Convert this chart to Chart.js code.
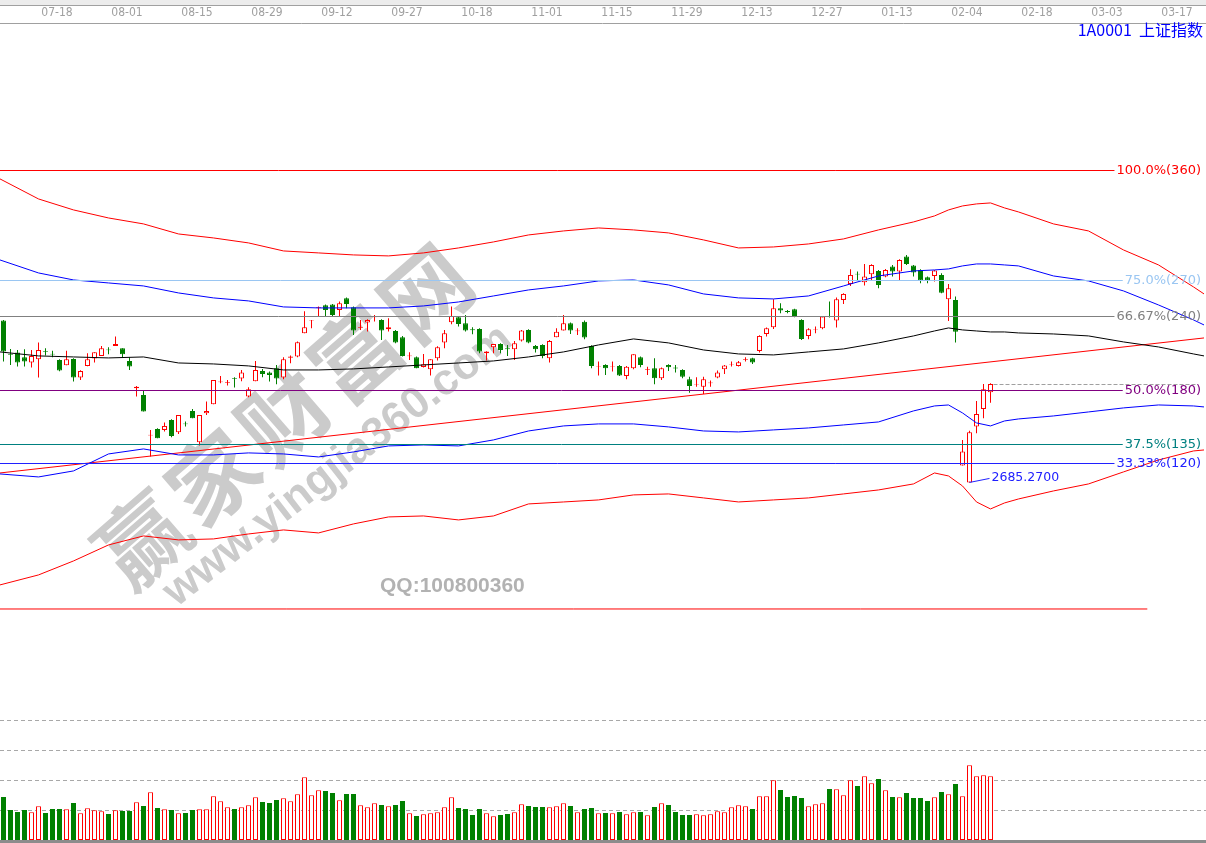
<!DOCTYPE html>
<html>
<head>
<meta charset="utf-8">
<script src="https://cdn.jsdelivr.net/npm/chart.js@4.4.1/dist/chart.umd.min.js"></script>
<style>
  html, body { margin: 0; padding: 0; background: #fff; overflow: hidden; }
</style>
</head>
<body>
<canvas id="kline" width="1206" height="843"></canvas>
<script>
// trading days (the last 30 are empty slots to the right)
const dates = [
  '07-08','07-09','07-10','07-11','07-12','07-15','07-16','07-17','07-18','07-19','07-22','07-23','07-24','07-25','07-26','07-29','07-30','07-31',
  '08-01','08-02','08-05','08-06','08-07','08-08','08-09','08-12','08-13','08-14','08-15','08-16','08-19','08-20','08-21','08-22','08-23','08-26','08-27','08-28','08-29','08-30',
  '09-02','09-03','09-04','09-05','09-06','09-09','09-10','09-11','09-12','09-16','09-17','09-18','09-19','09-20','09-23','09-24','09-25','09-26','09-27','09-30',
  '10-08','10-09','10-10','10-11','10-14','10-15','10-16','10-17','10-18','10-21','10-22','10-23','10-24','10-25','10-28','10-29','10-30','10-31',
  '11-01','11-04','11-05','11-06','11-07','11-08','11-11','11-12','11-13','11-14','11-15','11-18','11-19','11-20','11-21','11-22','11-25','11-26','11-27','11-28','11-29',
  '12-02','12-03','12-04','12-05','12-06','12-09','12-10','12-11','12-12','12-13','12-16','12-17','12-18','12-19','12-20','12-23','12-24','12-25','12-26','12-27','12-30','12-31',
  '01-02','01-03','01-06','01-07','01-08','01-09','01-10','01-13','01-14','01-15','01-16','01-17','01-20','01-21','01-22','01-23',
  '02-03','02-04','02-05','02-06','02-07','02-10','02-11','02-12','02-13','02-14','02-17','02-18','02-19','02-20','02-21','02-24','02-25','02-26','02-27','02-28',
  '03-02','03-03','03-04','03-05','03-06','03-09','03-10','03-11','03-12','03-13','03-16','03-17','03-18','03-19','03-20'
];
const tickLabels = ['07-18','08-01','08-15','08-29','09-12','09-27','10-18','11-01','11-15','11-29','12-13','12-27','01-13','02-04','02-18','03-03','03-17'];

const open = [
  2997.8,2934.0,2936.0,2927.0,2916.7,2923.1,2938.6,2934.0,2921.8,2911.5,2923.8,2887.7,2910.2,2924.4,2929.6,2942.0,2948.9,2944.4,2919.9,2867.1,
  2854.2,2775.8,2788.6,2786.7,2806.0,2782.2,2799.3,2823.3,2762.8,2818.9,2836.2,2878.7,2877.4,2886.5,2885.8,2851.0,2880.6,2900.6,2897.4,2905.7,
  2887.7,2926.3,2928.3,2973.4,2997.8,3022.3,3027.4,3028.7,3018.4,3040.9,3023.6,2983.7,2994.0,3004.2,2999.1,2981.1,2977.8,2965.6,2928.9,2927.0,
  2908.3,2903.8,2925.1,2955.3,2994.6,3004.2,2992.7,2981.1,2981.7,2934.7,2946.3,2952.8,2944.4,2942.5,2959.2,2979.8,2948.9,2950.8,2925.0,2965.6,
  2978.5,2992.6,2977.2,2995.8,2948.9,2909.0,2912.2,2909.0,2910.2,2890.9,2905.7,2927.0,2902.5,2905.7,2886.4,2912.2,2907.0,2902.5,2884.5,2874.2,
  2870.3,2876.8,2887.7,2903.8,2912.8,2910.2,2921.8,2925.0,2939.2,2972.0,2984.9,3021.6,3016.5,3019.7,2999.1,2968.2,2980.4,2983.0,3006.8,2997.8,
  3037.7,3068.6,3088.5,3071.8,3087.3,3093.7,3082.8,3102.1,3092.4,3121.4,3104.0,3095.6,3081.5,3084.0,3086.0,3039.0,3037.7,2717.8,2685.27,2793.1,
  2827.2,2859.4
];
const high = [
  2999.0,2943.0,2941.1,2942.4,2941.1,2955.3,2944.4,2939.8,2923.1,2939.8,2925.1,2901.9,2934.7,2936.6,2948.9,2946.3,2966.9,2944.4,2927.0,2871.6,
  2862.0,2786.7,2789.9,2800.8,2807.3,2815.6,2802.8,2827.2,2815.6,2841.4,2883.2,2891.0,2883.2,2888.4,2902.5,2869.0,2919.9,2904.4,2899.3,2912.2,
  2927.0,2930.2,2957.2,3015.8,2999.1,3024.9,3028.7,3030.0,3034.5,3042.2,3024.9,2999.1,3000.4,3008.8,3000.4,3002.3,2979.8,2968.2,2936.7,2928.3,
  2933.4,2923.2,2948.3,2979.8,3024.9,3005.5,3008.8,2984.9,2983.0,2938.5,2952.8,2954.0,2950.8,2958.5,2979.8,2981.1,2950.8,2952.1,2960.4,2983.0,
  3008.7,2993.9,2983.0,2997.8,2950.1,2918.6,2913.4,2918.6,2912.2,2910.2,2932.8,2928.3,2908.9,2925.0,2907.0,2913.5,2912.2,2903.8,2889.6,2888.4,
  2889.6,2881.9,2901.2,2912.2,2918.6,2919.9,2927.0,2926.3,2969.5,2984.3,3039.0,3031.3,3018.4,3020.9,3000.4,2983.0,2986.2,3006.8,3034.5,3042.2,
  3050.6,3096.9,3092.4,3107.2,3106.6,3095.6,3097.6,3105.3,3116.2,3124.6,3105.3,3096.9,3082.8,3095.6,3089.2,3068.6,3044.1,2767.3,2785.3,2842.6,
  2875.5,2876.7
];
const low = [
  2918.6,2912.2,2909.0,2909.0,2907.0,2887.7,2930.2,2927.0,2899.9,2911.5,2880.0,2883.2,2909.6,2916.7,2929.6,2932.8,2948.9,2927.0,2902.5,2851.0,
  2822.1,2735.2,2770.6,2783.5,2772.5,2779.0,2793.1,2809.2,2756.4,2815.6,2836.2,2876.8,2872.3,2868.4,2880.6,2849.7,2880.6,2888.4,2880.0,2874.8,
  2884.5,2915.4,2927.0,2973.4,2983.0,3006.8,3006.8,3006.8,3006.8,3021.6,2970.1,2979.8,2976.6,2995.9,2960.5,2976.6,2954.0,2928.3,2921.9,2905.8,
  2907.1,2891.6,2920.6,2944.4,2990.7,2986.2,2976.6,2971.4,2934.7,2920.6,2934.7,2934.7,2929.6,2921.9,2957.2,2954.0,2936.0,2925.0,2916.7,2965.6,
  2978.5,2972.0,2970.1,2961.7,2905.7,2891.6,2892.8,2899.3,2890.9,2884.5,2903.8,2907.7,2892.9,2874.8,2883.2,2900.6,2897.4,2886.4,2858.7,2870.3,
  2856.2,2870.3,2886.4,2894.8,2909.0,2909.0,2918.6,2914.1,2936.0,2966.9,2981.7,3011.9,3011.9,3004.2,2960.5,2961.7,2973.3,2981.1,3003.6,2984.3,
  3030.0,3064.7,3075.0,3065.4,3074.4,3060.2,3081.5,3082.8,3076.3,3105.3,3082.8,3069.9,3069.9,3073.1,3050.6,2996.8,2955.3,2717.8,2685.27,2780.2,
  2809.2,2839.4
];
const close = [
  2937.9,2932.0,2916.7,2918.6,2929.6,2941.1,2937.0,2932.5,2901.2,2923.1,2887.7,2900.6,2923.1,2936.6,2944.4,2940.5,2952.7,2932.8,2909.0,2870.1,
  2822.1,2777.4,2770.6,2794.4,2775.1,2815.6,2797.7,2809.2,2815.6,2823.3,2883.2,2880.0,2878.7,2885.0,2897.4,2865.2,2902.5,2894.8,2892.9,2885.8,
  2923.1,2928.3,2955.9,2984.9,2999.1,3023.6,3018.4,3008.8,3031.3,3030.0,2978.5,2984.9,2999.1,3005.5,2978.5,2984.9,2955.3,2929.6,2930.2,2905.8,
  2913.5,2923.2,2946.3,2973.4,3006.8,2991.4,2978.5,2979.1,2937.9,2937.9,2952.8,2941.2,2942.5,2954.0,2978.5,2955.3,2942.5,2929.5,2958.5,2976.5,
  2992.6,2978.5,2978.5,2965.0,2910.2,2910.2,2905.7,2910.2,2891.6,2908.9,2932.8,2912.2,2903.8,2886.4,2905.7,2907.7,2905.1,2889.6,2871.6,2875.5,
  2884.5,2878.1,2897.4,2910.9,2914.1,2917.3,2923.1,2916.7,2968.2,2983.0,3021.6,3017.1,3014.5,3006.8,2962.4,2981.1,2981.7,3005.5,3004.9,3039.0,
  3049.3,3086.0,3086.6,3082.8,3105.3,3066.7,3095.6,3092.4,3115.0,3107.2,3090.5,3075.0,3075.0,3094.3,3051.8,3060.2,2976.5,2744.8,2782.1,2817.5,
  2865.2,2875.5
];
const volume = [
  2150,1500,1400,1500,1390,1690,1350,1550,1550,1540,1850,1340,1590,1490,1440,1300,1490,1450,1450,1890,
  1700,2390,1600,1540,1500,1340,1350,1500,1540,1540,2190,1940,1640,1550,1640,1740,2140,1900,1850,2000,
  2090,1940,2290,3140,2240,2490,2450,2350,1990,2300,2300,1740,1640,1840,1750,1690,1750,1950,1340,1200,
  1290,1340,1390,1640,2140,1600,1550,1250,1550,1340,1190,1250,1300,1390,1790,1700,1650,1650,1640,1690,
  1840,1700,1390,1550,1600,1340,1350,1340,1400,1290,1390,1400,1240,1650,1840,1750,1400,1250,1250,1290,
  1240,1290,1440,1390,1640,1740,1690,1550,2190,2190,2990,2500,2150,2200,2100,1690,1790,1840,2550,2540,
  2240,2990,2700,3190,2840,3050,2490,2150,2140,2350,2100,2100,1950,2140,2400,2290,2800,2190,3740,3190,
  3240,3190
];
const volGrid = [1500, 3000, 4500, 6000];

// channel lines, sampled along the bar index
const bandX = [-0.5,5,10,15,20,25,30,35,40,45,50,55,60,65,70,75,80,85,90,95,100,105,110,115,120,125,130,133,135,137,139,141,143,145,150,155,160,165,170,171.5];
const upperRed = [3271.4,3232.7,3211.5,3196.0,3184.5,3165.1,3157.4,3147.8,3132.3,3128.5,3124.6,3122.7,3128.5,3138.1,3149.7,3163.2,3170.9,3176.7,3172.9,3167.1,
  3153.6,3138.1,3140.0,3145.8,3155.5,3172.9,3188.3,3199.9,3211.5,3219.2,3223.1,3225.0,3215.4,3207.6,3184.5,3170.9,3134.2,3105.3,3062.8,3049.3];
const upperBlue = [3114.9,3089.8,3076.3,3070.5,3064.7,3051.2,3041.6,3035.8,3024.2,3022.3,3022.3,3022.3,3026.1,3033.8,3045.4,3057.0,3064.7,3074.4,3076.3,3066.7,
  3049.3,3041.6,3039.6,3045.4,3064.7,3084.0,3093.7,3095.6,3097.6,3103.4,3107.2,3107.2,3105.3,3103.4,3084.0,3074.4,3055.1,3028.0,2999.1,2989.4];
const midBlack = [2937.3,2929.6,2927.6,2925.7,2927.6,2916.0,2914.1,2910.3,2902.5,2902.5,2904.5,2908.3,2912.2,2916.0,2919.9,2927.6,2937.3,2950.8,2962.4,2954.7,
  2941.1,2933.4,2931.5,2937.3,2943.1,2954.7,2968.2,2977.8,2983.6,2979.8,2977.8,2975.9,2975.9,2974.0,2972.0,2968.2,2956.6,2946.9,2933.4,2929.6];
const lowerBlue = [2701.7,2695.9,2707.5,2740.3,2750.0,2738.4,2738.4,2742.3,2740.3,2734.5,2744.2,2755.8,2757.7,2755.8,2767.4,2784.7,2794.4,2798.3,2798.3,2792.5,
  2784.7,2782.8,2786.7,2790.5,2796.3,2802.1,2823.4,2833.0,2834.9,2819.5,2800.2,2794.4,2804.0,2807.9,2813.7,2821.4,2829.2,2834.9,2833.0,2831.1];
const lowerRed = [2487.4,2506.7,2533.7,2564.6,2582.0,2574.3,2576.2,2585.8,2593.6,2587.8,2605.2,2618.7,2620.6,2612.9,2620.6,2643.8,2647.6,2651.5,2661.2,2663.1,
  2655.4,2647.6,2651.5,2655.4,2663.1,2670.8,2682.4,2703.6,2697.8,2678.5,2647.6,2634.1,2645.7,2653.4,2668.9,2682.4,2705.6,2728.7,2746.1,2748.0];
const trendX = [-0.5, 171.5];
const trendY = [2703.6, 2964.3];
const baseLevel = 2440.91;

const fibPrices = [3288.45, 3076.57, 3005.96, 2864.68, 2758.74, 2723.42];
const fibLabels = ['100.0%(360)', '75.0%(270)', '66.67%(240)', '50.0%(180)', '37.5%(135)', '33.33%(120)'];
const fibColors = ['#ff0000', '#9ac6f2', '#808080', '#800080', '#008080', '#2020ff'];

const RED = '#ff0000', GREEN = '#008000';
const isUp = open.map((o, i) => close[i] >= o);
const pts = (xs, ys) => ys.map((y, k) => ({ x: xs[k], y: y }));

const overlay = {
  id: 'overlay',
  beforeDraw(chart) {
    const ctx = chart.ctx;
    ctx.save();
    ctx.fillStyle = '#ffffff';
    ctx.fillRect(0, 0, chart.width, chart.height);
    ctx.fillStyle = '#ececec';
    ctx.fillRect(0, 0, chart.width, 5);
    ctx.fillStyle = '#a0a0a0';
    ctx.fillRect(0, 5, chart.width, 1);
    ctx.fillRect(chart.width - 3, 23, 3, 1);
    ctx.fillStyle = '#8c8c8c';
    ctx.fillRect(0, 840, chart.width, 3);
    ctx.restore();
  },
  beforeDatasetsDraw(chart) {
    const ctx = chart.ctx;
    const yv = chart.scales.yv;
    ctx.save();
    // volume grid
    ctx.strokeStyle = '#a8a8a8';
    ctx.lineWidth = 1;
    ctx.setLineDash([4, 3]);
    volGrid.forEach(v => {
      const y = Math.round(yv.getPixelForValue(v)) + 0.5;
      ctx.beginPath(); ctx.moveTo(0, y); ctx.lineTo(chart.width, y); ctx.stroke();
    });
    ctx.setLineDash([]);
    // watermark
    ctx.fillStyle = '#cbcbcb';
    ctx.textAlign = 'center';
    ctx.textBaseline = 'middle';
    ctx.save();
    ctx.translate(286, 414);
    ctx.rotate(-41 * Math.PI / 180);
    ctx.font = 'bold 88px "Noto Sans CJK SC"';
    ctx.letterSpacing = '6px';
    ctx.fillText('赢家财富网', 0, 0);
    ctx.restore();
    ctx.save();
    ctx.translate(338, 466);
    ctx.rotate(-38 * Math.PI / 180);
    ctx.font = 'bold 44px "Liberation Sans"';
    ctx.fillText('www.yingjia360.com', 0, 0);
    ctx.restore();
    ctx.fillStyle = '#b2b2b2';
    ctx.textAlign = 'left';
    ctx.font = 'bold 21px "Liberation Sans"';
    ctx.fillText('QQ:100800360', 380, 586);
    ctx.restore();
  },
  afterDatasetsDraw(chart) {
    const ctx = chart.ctx;
    const y = chart.scales.y, x = chart.scales.x;
    ctx.save();
    ctx.font = '13px "DejaVu Sans"';
    ctx.textBaseline = 'middle';
    ctx.textAlign = 'right';
    fibPrices.forEach((p, k) => {
      const py = Math.round(y.getPixelForValue(p)) + 0.5;
      const w = ctx.measureText(fibLabels[k]).width;
      ctx.strokeStyle = fibColors[k];
      ctx.lineWidth = 1;
      ctx.beginPath(); ctx.moveTo(0, py); ctx.lineTo(1201 - w - 2, py); ctx.stroke();
      ctx.fillStyle = fibColors[k];
      ctx.fillText(fibLabels[k], 1201, py);
    });
    // last close dashed
    const last = close.length - 1;
    const cy = Math.round(y.getPixelForValue(close[last])) + 0.5;
    ctx.strokeStyle = '#a0a0a0';
    ctx.setLineDash([4, 2]);
    ctx.beginPath(); ctx.moveTo(x.getPixelForValue(last) + 3, cy); ctx.lineTo(1197, cy); ctx.stroke();
    ctx.setLineDash([]);
    // lowest low marker
    let li = 0;
    low.forEach((l, i) => { if (l < low[li]) li = i; });
    const lx = x.getPixelForValue(li), ly = y.getPixelForValue(low[li]);
    ctx.strokeStyle = '#2020ff';
    ctx.beginPath(); ctx.moveTo(lx, ly); ctx.lineTo(lx + 20, ly - 4); ctx.stroke();
    ctx.fillStyle = '#2020ff';
    ctx.textAlign = 'left';
    ctx.font = '12.5px "DejaVu Sans"';
    ctx.fillText(low[li].toFixed(4), lx + 22, ly - 5);
    // title
    ctx.fillStyle = '#0000ff';
    ctx.textAlign = 'right';
    ctx.font = '16px "Noto Sans CJK SC"';
    ctx.fillText('1A0001  上证指数', 1203, 30);
    ctx.restore();
  }
};

const lineDs = (label, xs, ys, color) => ({
  type: 'line', label: label, xAxisID: 'xl', yAxisID: 'y',
  data: pts(xs, ys), borderColor: color, borderWidth: 1,
  pointRadius: 0, tension: 0, fill: false, order: 0
});

new Chart(document.getElementById('kline'), {
  type: 'bar',
  data: {
    labels: dates,
    datasets: [
      lineDs('upper2', bandX, upperRed, RED),
      lineDs('upper1', bandX, upperBlue, '#0000ff'),
      lineDs('mid', bandX, midBlack, '#000000'),
      lineDs('lower1', bandX, lowerBlue, '#0000ff'),
      lineDs('lower2', bandX, lowerRed, RED),
      lineDs('trend', trendX, trendY, RED),
      lineDs('base', [-0.5, 163.4], [baseLevel, baseLevel], RED),
      {
        label: 'body', yAxisID: 'y', order: 1, grouped: false,
        data: open.map((o, i) => [Math.min(o, close[i]), Math.max(o, close[i])]),
        backgroundColor: isUp.map(u => u ? '#ffffff' : GREEN),
        borderColor: isUp.map(u => u ? RED : GREEN),
        borderWidth: 1, borderSkipped: false, barThickness: 5, inflateAmount: 0
      },
      {
        label: 'wick', yAxisID: 'y', order: 2, grouped: false,
        data: low.map((l, i) => [l, high[i]]),
        backgroundColor: isUp.map(u => u ? RED : GREEN),
        borderWidth: 0, barThickness: 1, inflateAmount: 0
      },
      {
        label: 'volume', yAxisID: 'yv', order: 3, grouped: false,
        data: volume,
        backgroundColor: isUp.map(u => u ? '#ffffff' : GREEN),
        borderColor: isUp.map(u => u ? RED : GREEN),
        borderWidth: 1, borderSkipped: false, barThickness: 5, inflateAmount: 0
      }
    ]
  },
  options: {
    responsive: false,
    animation: false,
    layout: { padding: { left: 0, right: 2, top: 0, bottom: 3 } },
    plugins: { legend: { display: false }, tooltip: { enabled: false } },
    scales: {
      x: {
        type: 'category', position: 'top', offset: true,
        grid: { display: false, drawTicks: false },
        border: { display: true, color: '#a0a0a0' },
        ticks: {
          autoSkip: false, maxRotation: 0, padding: 3, labelOffset: -2.5,
          color: '#a0a0a0',
          font: { family: '"Liberation Sans Narrow", "DejaVu Sans Condensed", sans-serif', size: 12 },
          callback: function (v, i) { return tickLabels.includes(dates[i]) ? dates[i] : ''; }
        },
        afterFit: s => { s.height = 23; }
      },
      xl: { type: 'linear', display: false, offset: false, grace: 0, min: -0.5, max: 171.5 },
      y: { type: 'linear', display: false, min: 1994.85, max: 3572.45 },
      yv: { type: 'linear', display: false, min: 0, max: 40850 }
    }
  },
  plugins: [overlay]
});
</script>
</body>
</html>
